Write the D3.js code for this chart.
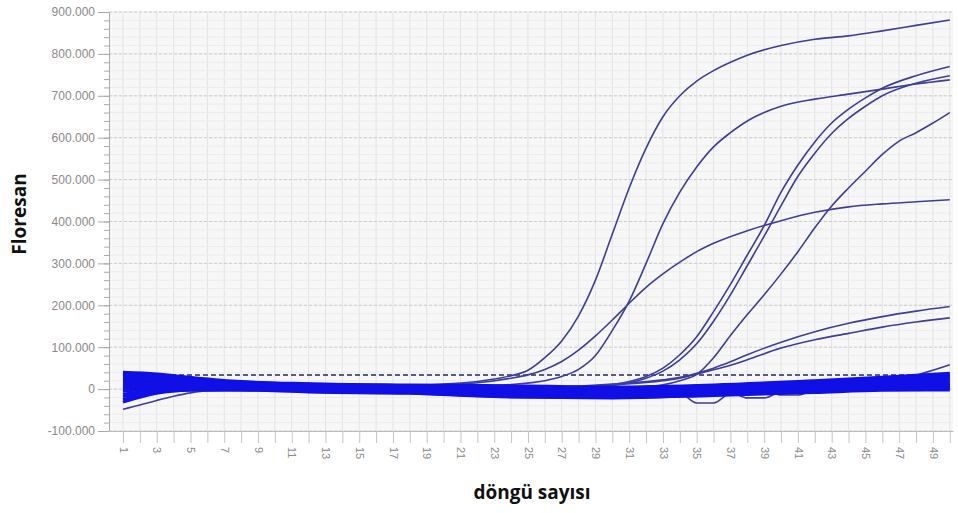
<!DOCTYPE html>
<html>
<head>
<meta charset="utf-8">
<script src="https://cdn.jsdelivr.net/npm/d3@7"></script>
<style>
  body { margin: 0; background: #fff; }
  svg text { font-family: "Liberation Sans", Arial, sans-serif; }
</style>
</head>
<body>
<div id="chart"></div>
<script>
// Axis values
const yTicks = [-100000, 0, 100000, 200000, 300000, 400000, 500000, 600000, 700000, 800000, 900000];
const xTickLabels = [1, 3, 5, 7, 9, 11, 13, 15, 17, 19, 21, 23, 25, 27, 29, 31, 33, 35, 37, 39, 41, 43, 45, 47, 49];
const threshold = 33000;

// Amplification curves: [cycle, fluorescence]
const curveA = [[1,12000],[4,6000],[8,3000],[12,2000],[16,4000],[20,12000],[22,18000],[23,24000],[24,32000],[25,45000],[26,75000],[27,115000],[28,175000],[29,260000],[30,370000],[31,480000],[32,575000],[33,650000],[34,700000],[35,735000],[36,760000],[37,780000],[38,797000],[40,820000],[42,835000],[44,843000],[46,855000],[48,868000],[50,881000]];
const curveB = [[1,8000],[5,4000],[10,0],[15,-2000],[20,2000],[22,5000],[24,11000],[26,20000],[27,30000],[28,47000],[29,80000],[30,140000],[31,210000],[32,300000],[33,395000],[34,470000],[35,530000],[36,578000],[37,612000],[38,640000],[39,660000],[40,675000],[42,692000],[44,704000],[46,716000],[48,728000],[50,738000]];
const curveE = [[1,10000],[5,5000],[10,2000],[15,3000],[20,10000],[22,15000],[24,26000],[25,34000],[26,47000],[27,66000],[28,93000],[29,127000],[30,165000],[31,205000],[32,243000],[33,275000],[34,303000],[35,328000],[36,348000],[38,378000],[40,402000],[42,422000],[44,435000],[46,442000],[48,447000],[50,452000]];
const curveC = [[1,5000],[5,2000],[10,-2000],[15,-4000],[20,-3000],[25,0],[28,4000],[29,7000],[30,11000],[31,18000],[32,30000],[33,50000],[34,82000],[35,125000],[36,185000],[37,250000],[38,320000],[39,390000],[40,470000],[41,535000],[42,590000],[43,635000],[44,668000],[45,695000],[46,718000],[48,748000],[50,770000]];
const curveD = [[1,3000],[5,0],[10,-3000],[15,-5000],[20,-5000],[25,-2000],[28,3000],[29,6000],[30,9000],[31,15000],[32,26000],[33,43000],[34,70000],[35,108000],[36,162000],[37,225000],[38,295000],[39,365000],[40,438000],[41,508000],[42,563000],[43,610000],[44,646000],[45,675000],[46,700000],[48,730000],[50,748000]];
const curveF = [[1,0],[10,-4000],[20,-6000],[28,-3000],[31,3000],[33,10000],[34,20000],[35,35000],[36,75000],[37,128000],[38,178000],[39,225000],[40,275000],[41,328000],[42,385000],[43,437000],[44,480000],[45,520000],[46,560000],[47,592000],[48,612000],[49,635000],[50,660000]];
const curveG = [[1,2000],[10,-2000],[20,-3000],[26,3000],[30,12000],[33,22000],[34,28000],[35,38000],[36,50000],[37,65000],[38,82000],[40,112000],[42,137000],[44,157000],[46,173000],[48,186000],[50,197000]];
const curveH = [[1,0],[10,-3000],[20,-4000],[26,2000],[30,10000],[33,20000],[34,26000],[35,36000],[36,46000],[37,57000],[38,70000],[40,98000],[42,118000],[44,133000],[46,148000],[48,160000],[50,170000]];
const curveI = [[1,-2000],[10,-5000],[20,-8000],[30,-10000],[36,-5000],[40,5000],[44,12000],[46,18000],[47,24000],[48,33000],[49,45000],[50,58000]];
const curveLow = [[1,-48000],[2,-38000],[3,-27000],[4,-17000],[5,-9000],[6,-4000],[8,-2000],[12,-5000],[18,-8000],[24,-13000],[30,-15000],[36,-10000],[42,-3000],[46,0],[50,2000]];
const dip1 = [[1,6000],[10,0],[20,-6000],[30,-12000],[33,-10000],[34,-10000],[35,-33000],[36,-33000],[37,-10000],[38,-8000],[42,0],[50,10000]];
const dip2 = [[1,4000],[10,-2000],[20,-7000],[30,-13000],[36,-9000],[37,-8000],[38,-21000],[39,-21000],[40,-6000],[42,-2000],[50,8000]];
const dip3 = [[1,2000],[10,-1000],[20,-5000],[30,-10000],[38,-4000],[39,-3000],[40,-14000],[41,-14000],[42,-3000],[46,2000],[50,6000]];

// Baseline (negative) wells, sampled at these cycles
const baseCycles = [1, 3, 5, 8, 12, 18, 24, 30, 36, 42, 46, 50];
const base1  = [40000, 36000, 28000, 18000, 13000, 10000, 8000, 5000, 10000, 20000, 28000, 38000];
const base2  = [38000, 33000, 25000, 16000, 12000, 8000, 5000, 3000, 8000, 18000, 25000, 34000];
const base3  = [35000, 30000, 22000, 15000, 10000, 6000, 2000, 0, 5000, 15000, 22000, 30000];
const base4  = [30000, 27000, 20000, 14000, 9000, 4000, 0, -3000, 3000, 12000, 20000, 27000];
const base5  = [25000, 22000, 17000, 12000, 7000, 2000, -3000, -6000, 0, 10000, 17000, 24000];
const base6  = [20000, 18000, 14000, 10000, 5000, 0, -5000, -8000, -2000, 8000, 15000, 20000];
const base7  = [14000, 14000, 12000, 8000, 3000, -2000, -7000, -10000, -4000, 6000, 12000, 17000];
const base8  = [8000, 10000, 9000, 6000, 2000, -3000, -9000, -12000, -6000, 4000, 10000, 14000];
const base9  = [2000, 6000, 7000, 5000, 0, -5000, -11000, -14000, -8000, 2000, 8000, 11000];
const base10 = [-5000, 2000, 5000, 4000, -1000, -6000, -13000, -16000, -10000, 0, 6000, 8000];
const base11 = [-12000, -2000, 3000, 3000, -3000, -7000, -15000, -17000, -12000, -2000, 4000, 5000];
const base12 = [-18000, -5000, 1000, 1000, -4000, -8000, -16000, -19000, -13000, -4000, 2000, 3000];
const base13 = [-25000, -8000, -1000, 0, -5000, -9000, -18000, -20000, -14000, -6000, 0, 0];
const base14 = [-31000, -10000, -3000, -2000, -7000, -10000, -19000, -21000, -15000, -8000, -3000, -2000];

const ampCurves = [curveA, curveB, curveE, curveC, curveD, curveF, curveG, curveH, curveI, curveLow, dip1, dip2, dip3];
const baseCurves = [base1, base2, base3, base4, base5, base6, base7, base8, base9, base10, base11, base12, base13, base14];

const W = 958, H = 513;
const plot = { left: 109, right: 953, top: 12, bottom: 431 };

const svg = d3.select("#chart").append("svg")
    .attr("width", W)
    .attr("height", H);

const x = d3.scaleLinear().domain([0.17, 50.19]).range([plot.left, plot.right]);
const y = d3.scaleLinear().domain([-100000, 900000]).range([plot.bottom, plot.top]);

const tr = d3.formatLocale({ decimal: ",", thousands: ".", grouping: [3], currency: ["", ""], minus: "-" });
const fmt = tr.format(",");

// plot background
svg.append("rect")
    .attr("x", plot.left).attr("y", plot.top)
    .attr("width", plot.right - plot.left).attr("height", plot.bottom - plot.top)
    .attr("fill", "#f7f7f7");

// grid
const grid = svg.append("g");
grid.selectAll(".vg")
    .data(d3.range(1, 51))
    .enter().append("line")
    .attr("x1", d => x(d)).attr("x2", d => x(d))
    .attr("y1", plot.top).attr("y2", plot.bottom)
    .attr("stroke", "#e3e3e3").attr("stroke-width", 1);
grid.selectAll(".hm")
    .data(d3.range(-100000, 900001, 20000))
    .enter().append("line")
    .attr("x1", plot.left).attr("x2", plot.right)
    .attr("y1", d => y(d)).attr("y2", d => y(d))
    .attr("stroke", "#ececec").attr("stroke-width", 1);
grid.selectAll(".hg")
    .data(yTicks)
    .enter().append("line")
    .attr("x1", plot.left).attr("x2", plot.right)
    .attr("y1", d => y(d)).attr("y2", d => y(d))
    .attr("stroke", "#cdcdcd").attr("stroke-width", 1)
    .attr("stroke-dasharray", "3,2");

// y axis (minor + major)
svg.append("g")
    .attr("transform", `translate(${plot.left},0)`)
    .call(d3.axisLeft(y).tickValues(d3.range(-100000, 900001, 20000)).tickSize(5).tickFormat(""))
    .call(g => g.select(".domain").remove())
    .call(g => g.selectAll("line").attr("stroke", "#aaa"));

const yAxis = svg.append("g")
    .attr("transform", `translate(${plot.left},0)`)
    .call(d3.axisLeft(y).tickValues(yTicks).tickSize(11).tickSizeOuter(0).tickPadding(3).tickFormat(fmt));
yAxis.select(".domain").attr("stroke", "#aaa");
yAxis.selectAll("line").attr("stroke", "#aaa");
yAxis.selectAll("text").attr("fill", "#8a8a8a").style("font-size", "12px");

// x axis
const xAxis = svg.append("g")
    .attr("transform", `translate(0,${plot.bottom})`)
    .call(d3.axisBottom(x).tickValues(d3.range(1, 51)).tickSize(12).tickSizeOuter(0)
        .tickFormat(d => xTickLabels.includes(d) ? d : ""));
xAxis.select(".domain").attr("stroke", "#bbb");
xAxis.selectAll("line").attr("stroke", "#c4c4c4");
xAxis.selectAll("text")
    .attr("transform", "rotate(90)")
    .attr("x", 16).attr("y", 0).attr("dy", "0.35em")
    .attr("text-anchor", "start")
    .attr("fill", "#8a8a8a")
    .style("font-size", "11px");

// threshold
const ty = Math.round(y(threshold));
svg.append("line")
    .attr("x1", x(1)).attr("x2", x(50))
    .attr("y1", ty).attr("y2", ty)
    .attr("stroke", "#555a8c").attr("stroke-width", 2)
    .attr("stroke-dasharray", "5,3");

const line = d3.line()
    .x(d => x(d[0]))
    .y(d => y(d[1]))
    .curve(d3.curveMonotoneX);

// amplification curves
svg.append("g").selectAll("path")
    .data(ampCurves)
    .enter().append("path")
    .attr("d", line)
    .attr("fill", "none")
    .attr("stroke", "#3d3d9c")
    .attr("stroke-width", 1.6);

// baseline band
svg.append("g").selectAll("path")
    .data(baseCurves)
    .enter().append("path")
    .attr("d", vals => line(vals.map((v, i) => [baseCycles[i], v])))
    .attr("fill", "none")
    .attr("stroke", "#1010e6")
    .attr("stroke-width", 3);

// titles
svg.append("text")
    .attr("transform", "translate(26,214) rotate(-90)")
    .attr("text-anchor", "middle")
    .style("font-family", "'Open Sans', sans-serif")
    .style("font-weight", "bold")
    .style("font-size", "19px")
    .attr("fill", "#111")
    .text("Floresan");

svg.append("text")
    .attr("x", 532).attr("y", 499)
    .attr("text-anchor", "middle")
    .style("font-family", "'Open Sans', sans-serif")
    .style("font-weight", "bold")
    .style("font-size", "19px")
    .attr("fill", "#111")
    .text("döngü sayısı");
</script>
</body>
</html>
